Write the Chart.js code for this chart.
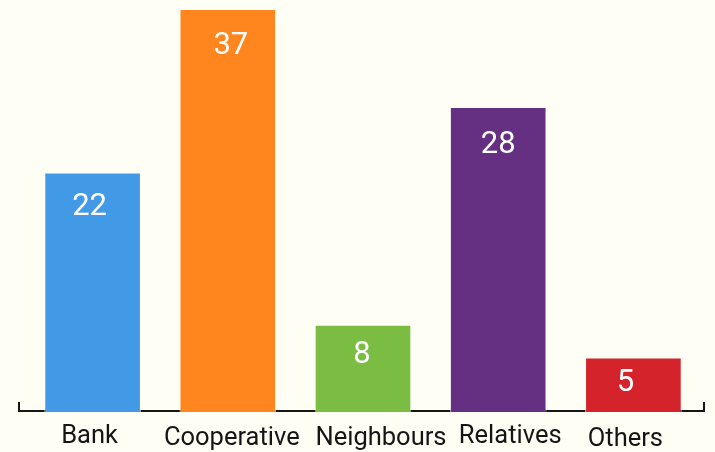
<!DOCTYPE html>
<html>
<head>
<meta charset="utf-8">
<script src="https://cdn.jsdelivr.net/npm/chart.js@4.4.0/dist/chart.umd.min.js"></script>
<style>
  html, body { margin: 0; padding: 0; background: #fffef5; }
  #wrap { width: 715px; height: 452px; }
</style>
</head>
<body>
<div id="wrap"><canvas id="sourcesChart"></canvas></div>
<script>
const categories = ['Bank', 'Cooperative', 'Neighbours', 'Relatives', 'Others'];
const counts = [22, 37, 8, 28, 5];
const barColors = ['#4299e6', '#ff861f', '#7bbd42', '#652f82', '#d4232b'];

// hand placement of the category names and the counts (px)
const nameShiftX = [-3, 4, 18, 12, -8];
const nameBaseline = [31, 33, 33, 31, 34];
const countShiftX = [-3, 3, -1, 0, -8];
const countDrop = [35, 37, 30, 38, 26];

// cream page background
const backdrop = {
  id: 'backdrop',
  beforeDraw(chart) {
    const c = chart.ctx;
    c.save();
    c.fillStyle = '#fffef5';
    c.fillRect(0, 0, chart.width, chart.height);
    c.restore();
  }
};

// baseline with small upturned ends, drawn under the bars
const baseline = {
  id: 'baseline',
  beforeDatasetsDraw(chart) {
    const c = chart.ctx;
    const y = chart.scales.y.getPixelForValue(0) - 1;
    const x0 = 19, x1 = 704;
    c.save();
    c.strokeStyle = '#151515';
    c.lineWidth = 2;
    c.beginPath();
    c.moveTo(x0, y - 9);
    c.lineTo(x0, y);
    c.lineTo(x1, y);
    c.lineTo(x1, y - 9);
    c.stroke();
    c.restore();
  }
};

// counts inside the bars and category names below the line
const barText = {
  id: 'barText',
  afterDatasetsDraw(chart) {
    const c = chart.ctx;
    const meta = chart.getDatasetMeta(0);
    const zero = chart.scales.y.getPixelForValue(0);
    c.save();
    c.textAlign = 'center';
    c.textBaseline = 'middle';
    c.fillStyle = '#ffffff';
    c.font = '31px Roboto';
    meta.data.forEach((bar, i) => {
      c.fillText(String(counts[i]), bar.x + countShiftX[i], bar.y + countDrop[i]);
    });
    c.textBaseline = 'alphabetic';
    c.fillStyle = '#151515';
    c.font = '25.5px Roboto';
    meta.data.forEach((bar, i) => {
      c.fillText(categories[i], bar.x + nameShiftX[i], zero + nameBaseline[i]);
    });
    c.restore();
  }
};

const ctx = document.getElementById('sourcesChart');
new Chart(ctx, {
  type: 'bar',
  data: {
    labels: categories,
    datasets: [{
      data: counts,
      backgroundColor: barColors,
      borderColor: 'rgba(255,255,255,0.7)',
      borderWidth: 1
    }]
  },
  options: {
    responsive: true,
    maintainAspectRatio: false,
    animation: false,
    layout: { padding: { left: 25, right: 14, top: 9, bottom: 0 } },
    plugins: {
      legend: { display: false },
      tooltip: { enabled: false }
    },
    datasets: {
      bar: { categoryPercentage: 1, barPercentage: 0.715 }
    },
    scales: {
      x: {
        grid: { display: false, drawTicks: false },
        border: { display: false },
        ticks: { display: false },
        afterFit(scale) { scale.height = 40; }
      },
      y: {
        display: false,
        min: 0,
        max: 37
      }
    }
  },
  plugins: [backdrop, baseline, barText]
});
</script>
</body>
</html>
